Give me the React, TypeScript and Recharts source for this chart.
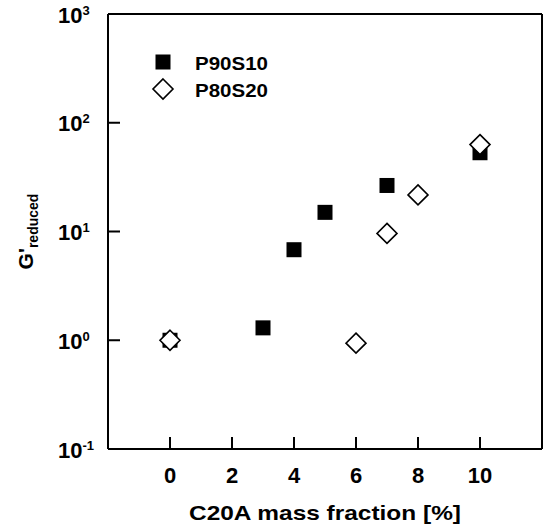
import React from 'react';
import { ScatterChart, Scatter, XAxis, YAxis, Legend } from 'recharts';

// C20A mass fraction [%] and reduced storage modulus
const fractionP90S10 = [0, 3, 4, 5, 7, 10];
const gReducedP90S10 = [1.0, 1.3, 6.8, 15, 26.5, 53];
const fractionP80S20 = [0, 6, 7, 8, 10];
const gReducedP80S20 = [1.0, 0.94, 9.6, 21.7, 63];

const seriesNames = ['P90S10', 'P80S20'];
const xTicks = [0, 2, 4, 6, 8, 10];
const yTicks = [0.1, 1, 10, 100, 1000];
const yExponents = ['-1', '0', '1', '2', '3'];

const FONT = '"Liberation Sans", Arial, sans-serif';
const BLACK = '#000';

const dataP90S10 = fractionP90S10.map((x, i) => ({ x, y: gReducedP90S10[i] }));
const dataP80S20 = fractionP80S20.map((x, i) => ({ x, y: gReducedP80S20[i] }));

const SquareMark = (props: any) => {
  const { cx, cy } = props;
  return <rect x={cx - 7.5} y={cy - 7.5} width={15} height={15} fill={BLACK} />;
};

const DiamondMark = (props: any) => {
  const { cx, cy } = props;
  return (
    <path
      d={`M${cx},${cy - 10}L${cx + 10},${cy}L${cx},${cy + 10}L${cx - 10},${cy}Z`}
      fill="#fff"
      stroke={BLACK}
      strokeWidth={1.6}
    />
  );
};

const XTick = (props: any) => {
  const { x, y, payload } = props;
  return (
    <text x={x} y={y + 16} textAnchor="middle" fontFamily={FONT} fontWeight="bold" fontSize={22} fill={BLACK}>
      {payload.value}
    </text>
  );
};

const YTick = (props: any) => {
  const { x, y, payload } = props;
  const idx = yTicks.indexOf(payload.value);
  return (
    <text x={x} y={y + 8.5} textAnchor="start" fontFamily={FONT} fontWeight="bold" fontSize={22} fill={BLACK}>
      10
      <tspan dy={-8} fontSize={13}>{yExponents[idx]}</tspan>
    </text>
  );
};

const XLabel = (props: any) => {
  const { viewBox } = props;
  return (
    <text
      x={viewBox.x + viewBox.width / 2}
      y={viewBox.y + 71}
      textAnchor="middle"
      fontFamily={FONT}
      fontWeight="bold"
      fontSize={21}
      textLength={272}
      lengthAdjust="spacingAndGlyphs"
      fill={BLACK}
    >
      C20A mass fraction [%]
    </text>
  );
};

const YLabel = (props: any) => {
  const { viewBox } = props;
  const cx = viewBox.x + 25;
  const cy = viewBox.y + viewBox.height / 2;
  return (
    <text
      x={cx}
      y={cy}
      transform={`rotate(-90, ${cx}, ${cy})`}
      textAnchor="middle"
      fontFamily={FONT}
      fontWeight="bold"
      fontSize={21}
      fill={BLACK}
    >
      G'
      <tspan dy={5} fontSize={14}>reduced</tspan>
    </text>
  );
};

const renderLegend = () => (
  <svg width={140} height={62} style={{ display: 'block' }}>
    <rect x={5.5} y={9.5} width={15} height={15} fill={BLACK} />
    <text x={45} y={25} fontFamily={FONT} fontWeight="bold" fontSize={18.5} textLength={73} lengthAdjust="spacingAndGlyphs" fill={BLACK}>
      {seriesNames[0]}
    </text>
    <path d="M13,34L23,44L13,54L3,44Z" fill="#fff" stroke={BLACK} strokeWidth={1.6} />
    <text x={45} y={52} fontFamily={FONT} fontWeight="bold" fontSize={18.5} textLength={73} lengthAdjust="spacingAndGlyphs" fill={BLACK}>
      {seriesNames[1]}
    </text>
  </svg>
);

const axisStroke = { stroke: BLACK, strokeWidth: 2 };

export default function App() {
  return (
    <div style={{ position: 'absolute', left: 0, top: 0, background: '#fff' }}>
      <ScatterChart width={546} height={531} margin={{ top: 14, right: 4, bottom: 12, left: 8 }}>
        <XAxis
          xAxisId="main"
          type="number"
          dataKey="x"
          domain={[-2, 12]}
          ticks={xTicks}
          allowDataOverflow
          height={70}
          axisLine={axisStroke}
          tickLine={axisStroke}
          tickSize={-12}
          tickMargin={30}
          tick={<XTick />}
          label={<XLabel />}
        />
        <XAxis
          xAxisId="top"
          orientation="top"
          type="number"
          domain={[-2, 12]}
          ticks={xTicks}
          allowDataOverflow
          mirror
          axisLine={axisStroke}
          tickLine={axisStroke}
          tickSize={12}
          tick={false}
        />
        <YAxis
          yAxisId="main"
          type="number"
          dataKey="y"
          scale="log"
          domain={[0.1, 1000]}
          ticks={yTicks}
          allowDataOverflow
          width={100}
          axisLine={axisStroke}
          tickLine={axisStroke}
          tickSize={-12}
          tickMargin={62}
          tick={<YTick />}
          label={<YLabel />}
        />
        <YAxis
          yAxisId="right"
          orientation="right"
          type="number"
          scale="log"
          domain={[0.1, 1000]}
          ticks={yTicks}
          allowDataOverflow
          mirror
          axisLine={axisStroke}
          tickLine={axisStroke}
          tickSize={12}
          tick={false}
        />
        <Legend
          layout="vertical"
          align="center"
          verticalAlign="middle"
          content={renderLegend}
          wrapperStyle={{ left: 150, top: 45, width: 140, height: 62 }}
        />
        <Scatter
          name={seriesNames[0]}
          xAxisId="main"
          yAxisId="main"
          data={dataP90S10}
          shape={<SquareMark />}
          isAnimationActive={false}
        />
        <Scatter
          name={seriesNames[1]}
          xAxisId="main"
          yAxisId="main"
          data={dataP80S20}
          shape={<DiamondMark />}
          isAnimationActive={false}
        />
      </ScatterChart>
    </div>
  );
}
